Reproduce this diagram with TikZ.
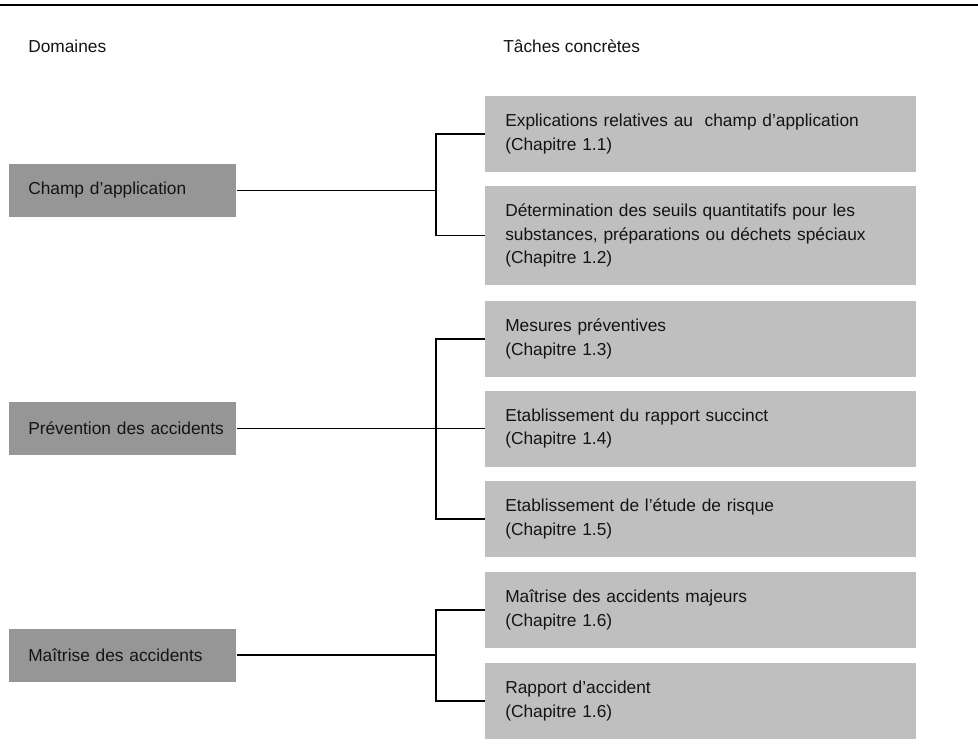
\documentclass[tikz,border=0pt]{standalone}
\usepackage{fontspec}
\setmainfont{Liberation Sans}
\begin{document}
\begin{tikzpicture}[x=0.75pt,y=-0.75pt,
  every node/.style={font=\fontsize{13}{17.6}\selectfont, text=black!92},
  dombox/.style={fill=black!41, draw=none, anchor=west, inner xsep=14.25pt, inner ysep=0pt,
    text width=141.75pt, align=left, minimum height=39.75pt},
  taskbox/.style={fill=black!25, draw=none, anchor=west, inner xsep=15pt, inner ysep=0pt,
    text width=293.25pt, align=left, minimum height=57pt},
  tallbox/.style={taskbox, minimum height=74.25pt},
  hdr/.style={anchor=base west, inner sep=0pt},
  conn/.style={line width=1.1pt, black}
]
\useasboundingbox (0,0) rectangle (978,753);
\coordinate (tl) at (0,5);
\coordinate (tr) at (978,5);
\draw[line width=1.1pt] (tl) -- (tr);

\node[hdr] (h1) at (28,52) {Domaines};
\node[hdr] (h2) at (503,52) {Tâches concrètes};

\node[dombox] (L1) at (9,190.5) {\mbox{Champ d’application}};
\node[dombox] (L2) at (9,428.5) {\mbox{Prévention des accidents}};
\node[dombox] (L3) at (9,655) {\mbox{Maîtrise des accidents}};

\node[taskbox] (R1) at (485,134) {\mbox{Explications relatives au~~champ d’application}\\(Chapitre 1.1)};
\node[tallbox] (R2) at (485,235.5) {\mbox{Détermination des seuils quantitatifs pour les}\\\mbox{substances, préparations ou déchets spéciaux}\\(Chapitre 1.2)};
\node[taskbox] (R3) at (485,339) {Mesures préventives\\(Chapitre 1.3)};
\node[taskbox] (R4) at (485,428.5) {Etablissement du rapport succinct\\(Chapitre 1.4)};
\node[taskbox] (R5) at (485,519) {Etablissement de l’étude de risque\\(Chapitre 1.5)};
\node[taskbox] (R6) at (485,610) {Maîtrise des accidents majeurs\\(Chapitre 1.6)};
\node[taskbox] (R7) at (485,701) {Rapport d’accident\\(Chapitre 1.6)};

\coordinate (bx) at (436,0);

\draw[conn] (L1.east) -- (L1.east -| bx);
\draw[conn] (R1.west) -- (R1.west -| bx) -- (R2.west -| bx) -- (R2.west);

\draw[conn] (L2.east) -- (R4.west);
\draw[conn] (R3.west) -- (R3.west -| bx) -- (R5.west -| bx) -- (R5.west);

\draw[conn] (L3.east) -- (L3.east -| bx);
\draw[conn] (R6.west) -- (R6.west -| bx) -- (R7.west -| bx) -- (R7.west);
\end{tikzpicture}
\end{document}
